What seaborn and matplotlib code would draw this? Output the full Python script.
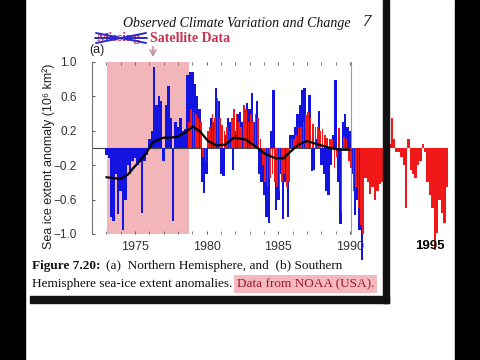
import matplotlib
matplotlib.use('Agg')
import matplotlib.pyplot as plt
from matplotlib.patches import Rectangle
from matplotlib.lines import Line2D
import seaborn as sns
import numpy as np

# bi-monthly sea-ice extent anomalies (10^6 km2)
step = 1 / 6
nh_start = 1973.0
nh_anomaly = [
    -0.08, -0.12, -0.80, -0.85, -0.30, -0.77,   # 1973
    -0.50, -0.95, -0.60, -0.20, -0.30, -0.15,   # 1974
    -0.12, -0.20, -0.15, -0.75, -0.15, -0.08,   # 1975
    0.10, 0.20, 0.94, 0.50, 0.60, 0.55,         # 1976
    -0.15, 0.50, 0.72, 0.35, -0.85, 0.30,       # 1977
    0.25, 0.35, 0.20, 0.22, 0.85, 0.88,         # 1978
    0.88, 0.75, 0.60, 0.45, -0.40, -0.52,       # 1979
    -0.30, 0.10, 0.35, 0.30, 0.70, 0.55,        # 1980
    -0.30, -0.33, 0.15, 0.35, 0.30, -0.25,      # 1981
    0.20, 0.40, 0.42, 0.30, 0.25, 0.52,         # 1982
    0.45, 0.64, 0.30, 0.55, -0.30, -0.40,       # 1983
    -0.55, -0.80, -0.87, 0.20, 0.68, -0.72,     # 1984
    -0.60, -0.30, -0.82, -0.40, -0.80, 0.15,    # 1985
    0.15, 0.25, 0.40, 0.50, 0.67, 0.70,         # 1986
    0.30, 0.62, -0.27, -0.25, 0.10, 0.43,       # 1987
    -0.20, -0.30, -0.50, -0.55, -0.20, 0.15,    # 1988
    0.79, -0.40, -0.88, 0.30, 0.40, 0.25,       # 1989
    0.20, -0.30, -0.78, -0.60, -0.95, -1.30,    # 1990
]
sh_start = 1978.75
sh_anomaly = [
    0.30, 0.45,                                 # 1978
    0.42, 0.40, 0.35, 0.30, -0.10, -0.15,       # 1979
    0.20, 0.25, 0.40, 0.35, 0.58, 0.35,         # 1980
    0.27, 0.20, 0.25, 0.20, 0.35, 0.45,         # 1981
    0.40, 0.30, 0.25, 0.50, 0.45, 0.30,         # 1982
    0.40, 0.30, 0.40, 0.35, 0.10, -0.20,        # 1983
    -0.40, -0.45, -0.35, -0.30, -0.40, -0.45,   # 1984
    -0.50, -0.40, -0.30, -0.45, -0.40, 0.10,    # 1985
    0.10, 0.15, 0.25, 0.25, 0.30, 0.38,         # 1986
    0.42, 0.35, 0.28, 0.25, 0.25, 0.20,         # 1987
    0.22, 0.15, 0.12, 0.10, 0.10, -0.23,        # 1988
    -0.10, 0.23, -0.73, 0.13, 0.10, -0.15,      # 1989
    -0.23, -0.50, -0.45, -0.70, -0.90, -1.00,   # 1990
    -0.35, -0.40, -0.53, -0.45, -0.60, -0.50,   # 1991
    -0.42, -0.40, -0.40, -0.40, 0.05, 0.35,     # 1992
    0.10, -0.05, -0.05, -0.10, -0.20, -0.70,    # 1993
    0.10, -0.25, -0.30, -0.35, -0.20, -0.15,    # 1994
    0.05, -0.05, -0.40, -0.55, -0.70, -1.19,    # 1995
    -0.99, -0.60, -0.75, -0.87, -0.45,          # 1996
]
# smoothed northern hemisphere curve
smooth_year = [1973.0, 1973.5, 1974.0, 1974.5, 1974.9, 1975.35, 1975.85, 1976.25,
               1977.0, 1977.45, 1977.95, 1978.5, 1979.05, 1979.55, 1980.1, 1980.7,
               1981.3, 1981.9, 1982.7, 1983.4, 1984.1, 1984.8, 1985.35, 1985.8,
               1986.4, 1987.0, 1987.8, 1988.6, 1989.3, 1990.0]
smooth_value = [-0.34, -0.35, -0.36, -0.31, -0.23, -0.15, -0.04, 0.07,
                0.12, 0.12, 0.13, 0.18, 0.25, 0.19, 0.08, 0.03,
                0.04, 0.12, 0.10, 0.02, -0.07, -0.12, -0.12, -0.05,
                0.04, 0.08, 0.04, 0.00, -0.02, -0.02]
gap_start, gap_end = 1973.05, 1978.77
y_ticks = [1.0, 0.6, 0.2, -0.2, -0.6, -1.0]
x_ticks = [1975, 1980, 1985, 1990]

sns.set_style('white')
plt.rcParams['font.family'] = ['Liberation Sans', 'DejaVu Sans']

W, H = 480, 360
def fx(px):
    return px / W
def fy(py):
    return 1 - py / H

fig = plt.figure(figsize=(4.8, 3.6), dpi=100)
fig.patch.set_facecolor('white')

ax = fig.add_axes([fx(92), fy(234), fx(351) - fx(92), fy(62) - fy(234)])
ax.set_facecolor('none')

nh_x = nh_start + np.arange(len(nh_anomaly)) * step
sh_x = sh_start + np.arange(len(sh_anomaly)) * step
# red bars are narrower where they share the time span with the blue ones
sh_width = np.where(sh_x < nh_x[-1], step * 0.7, step)

ax.axvspan(gap_start, gap_end, color='#f2b6ba', lw=0, zorder=0)
ax.axhline(0, color='#444444', lw=0.8, zorder=1)
ax.bar(nh_x, nh_anomaly, width=step, color='#1414e0', lw=0, clip_on=False, zorder=2)
ax.bar(sh_x, sh_anomaly, width=sh_width, color='#f01818', lw=0, clip_on=False, zorder=3)
sns.lineplot(x=smooth_year, y=smooth_value, color='black', lw=1.6, ax=ax, zorder=4)

ax.set_xlim(1972.0, 1990.07)
ax.set_ylim(-1.0, 1.0)
ax.set_xticks(x_ticks)
ax.set_xticks(range(1973, 1991), minor=True)
ax.set_yticks(y_ticks)
ax.set_yticklabels([f'{v:.1f}'.replace('-', '\u2212') for v in y_ticks])
ax.tick_params(axis='x', which='both', direction='in', top=True, bottom=True,
               length=2.5, color='#666666', labelsize=9, labelcolor='#333333', pad=5)
ax.tick_params(axis='y', which='both', direction='in', left=True, length=2.5,
               color='#666666', labelsize=8.5, labelcolor='#333333', pad=11)
for side in ['top', 'bottom']:
    ax.spines[side].set_visible(False)
ax.spines['left'].set_color('#777777')
ax.spines['left'].set_linewidth(0.8)
ax.spines['right'].set_color('#999999')
ax.spines['right'].set_linewidth(0.8)

fig.text(fx(49), fy(156), 'Sea ice extent anomaly (10\u2076 km\u00b2)', rotation=90,
         ha='center', va='center', fontsize=9, color='#222222')
fig.text(fx(430), fy(246), '1995', ha='center', va='center', fontsize=9.5,
         fontweight='bold', color='black', zorder=6)
fig.text(fx(97), fy(50), '(a)', ha='center', va='center', fontsize=9, color='#222222')

serif = ['Liberation Serif', 'DejaVu Serif']
fig.text(fx(123), fy(23), 'Observed Climate Variation and Change', family=serif,
         style='italic', fontsize=10, va='center', color='#111111')
fig.text(fx(362), fy(22), '7', family=serif, style='italic', fontsize=12,
         va='center', color='#111111')
fig.text(fx(97), fy(38), 'Missing', family=serif, fontweight='bold', fontsize=9.5,
         va='center', color='#c8324e')
fig.text(fx(150), fy(38), 'Satellite Data', family=serif, fontweight='bold',
         fontsize=10, va='center', color='#c8324e')
for (x0, y0, x1, y1) in [(96, 33, 146, 43), (96, 43, 146, 33), (95, 38, 147, 38)]:
    fig.add_artist(Line2D([fx(x0), fx(x1)], [fy(y0), fy(y1)], color='#2a2ad0',
                          lw=1.4, transform=fig.transFigure, zorder=6))
ax.annotate('', xy=(fx(153), fy(60)), xytext=(fx(153), fy(44)),
            xycoords='figure fraction', textcoords='figure fraction',
            arrowprops=dict(arrowstyle='->', color='#c8909a', lw=1.2))

fig.text(fx(32), fy(266), 'Figure 7.20:', family=serif, fontweight='bold',
         fontsize=9.5, va='center', color='#111111')
fig.text(fx(106), fy(266), '(a)  Northern Hemisphere, and  (b) Southern',
         family=serif, fontsize=9.5, va='center', color='#111111')
fig.text(fx(32), fy(284), 'Hemisphere sea-ice extent anomalies.', family=serif,
         fontsize=9.5, va='center', color='#111111')
fig.text(fx(237), fy(284), 'Data from NOAA (USA).', family=serif, fontsize=9.5,
         va='center', color='#9a1a30',
         bbox=dict(boxstyle='square,pad=0.2', facecolor='#f4b8be', edgecolor='none'))

# page shadow and black side bars
fig.add_artist(Rectangle((fx(30), fy(303)), fx(389) - fx(30), fy(296) - fy(303),
                         transform=fig.transFigure, color='#111111', zorder=5))
fig.add_artist(Rectangle((fx(383), fy(303)), fx(389) - fx(383), 1 - fy(303),
                         transform=fig.transFigure, color='#111111', zorder=5))
fig.add_artist(Rectangle((0, 0), fx(25), 1, transform=fig.transFigure,
                         color='black', zorder=7))
fig.add_artist(Rectangle((fx(455), 0), fx(25), 1, transform=fig.transFigure,
                         color='black', zorder=7))

fig.savefig('out.png', dpi=100)
